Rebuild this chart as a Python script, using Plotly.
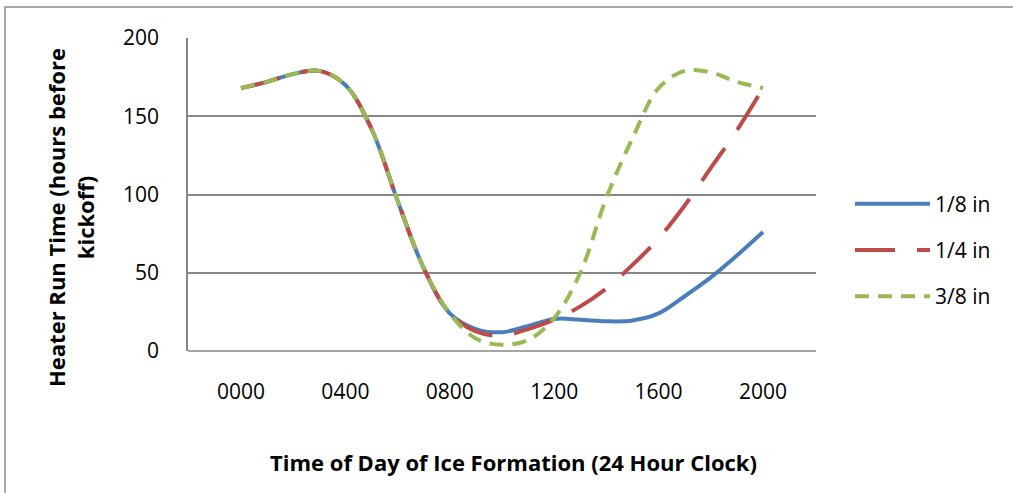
import plotly.graph_objects as go

# Time of day of ice formation (24-hour clock, hundreds)
times = [0, 100, 200, 300, 400, 500, 600, 700, 800, 900, 1000,
         1100, 1200, 1300, 1400, 1500, 1600, 1700, 1800, 1900, 2000]

eighth_in = [168, 172, 177, 179, 170, 142, 96, 53, 24, 14, 12,
             16, 20.5, 20, 19, 19.5, 24, 35, 47, 61, 76]
quarter_in = [168, 172, 177, 179, 170, 142, 96, 53, 24, 12.5, 9.8,
              14, 20, 28.5, 40, 55, 72, 93, 117, 141, 168]
three_eighth_in = [168, 172, 177, 179, 170, 142, 96, 53, 24, 8, 4,
                   7, 21, 50, 98, 136, 168, 179, 178, 172, 168]

series_names = ["1/8 in", "1/4 in", "3/8 in"]
tick_vals = [0, 400, 800, 1200, 1600, 2000]
tick_text = ["0000", "0400", "0800", "1200", "1600", "2000"]
y_ticks = [0, 50, 100, 150, 200]

FONT = "Open Sans, sans-serif"
GRID = "#878787"

W, H = 1013, 493
L, R, T, B = 188, 197, 38, 142
PW, PH = W - L - R, H - T - B


def px_x(px):
    return (px - L) / PW


def px_y(py):
    return (H - B - py) / PH


fig = go.Figure()
styles = [
    dict(color="#4A7EBB", width=4, dash="solid"),
    dict(color="#BE4B48", width=4, dash="40px,22px"),
    dict(color="#98B954", width=4, dash="14px,9px"),
]
for i, (name, vals) in enumerate(zip(series_names, [eighth_in, quarter_in, three_eighth_in])):
    fig.add_trace(go.Scatter(
        x=times, y=vals, name=name, mode="lines",
        line=dict(shape="spline", smoothing=1.0, **styles[i]),
        legendgroup=f"g{i}",
    ))

fig.update_layout(
    width=W, height=H,
    margin=dict(l=L, r=R, t=T, b=B),
    paper_bgcolor="white", plot_bgcolor="white",
    font=dict(family=FONT, size=21, color="#000000"),
    showlegend=True,
    legend=dict(
        x=px_x(850), y=px_y(250), xanchor="left", yanchor="middle",
        font=dict(family=FONT, size=21, color="#000000"),
        tracegroupgap=16, itemwidth=75, bgcolor="rgba(0,0,0,0)",
        traceorder="grouped",
    ),
    xaxis=dict(
        range=[-203, 2203], tickvals=tick_vals, ticktext=tick_text,
        showgrid=False, zeroline=False, showline=False,
        ticks="", ticklabelstandoff=26,
        tickfont=dict(family=FONT, size=21),
    ),
    yaxis=dict(
        range=[0, 200], tickvals=y_ticks, showgrid=True, gridcolor=GRID,
        gridwidth=1.5, zeroline=False, showline=True, linecolor=GRID,
        linewidth=1.5, ticks="", ticklabelstandoff=23,
        tickfont=dict(family=FONT, size=21),
    ),
    annotations=[
        dict(text="<b>Time of Day of Ice Formation (24 Hour Clock)</b>",
             xref="paper", yref="paper", x=px_x(513), y=px_y(462),
             xanchor="center", yanchor="middle", showarrow=False,
             font=dict(family=FONT, size=22)),
        dict(text="<b>Heater Run Time (hours before<br>kickoff)</b>",
             xref="paper", yref="paper", x=px_x(70), y=px_y(217),
             xanchor="center", yanchor="middle", showarrow=False,
             textangle=-90, font=dict(family=FONT, size=22)),
    ],
    shapes=[
        dict(type="line", xref="paper", yref="paper", x0=0, x1=1,
             y0=0, y1=0, line=dict(color=GRID, width=1.5)),
        dict(type="rect", xref="paper", yref="paper",
             x0=px_x(5), x1=px_x(1030), y0=px_y(7), y1=px_y(510),
             line=dict(color="#8C8C8C", width=1.5), layer="below"),
    ],
)

fig.write_html("out.html")
